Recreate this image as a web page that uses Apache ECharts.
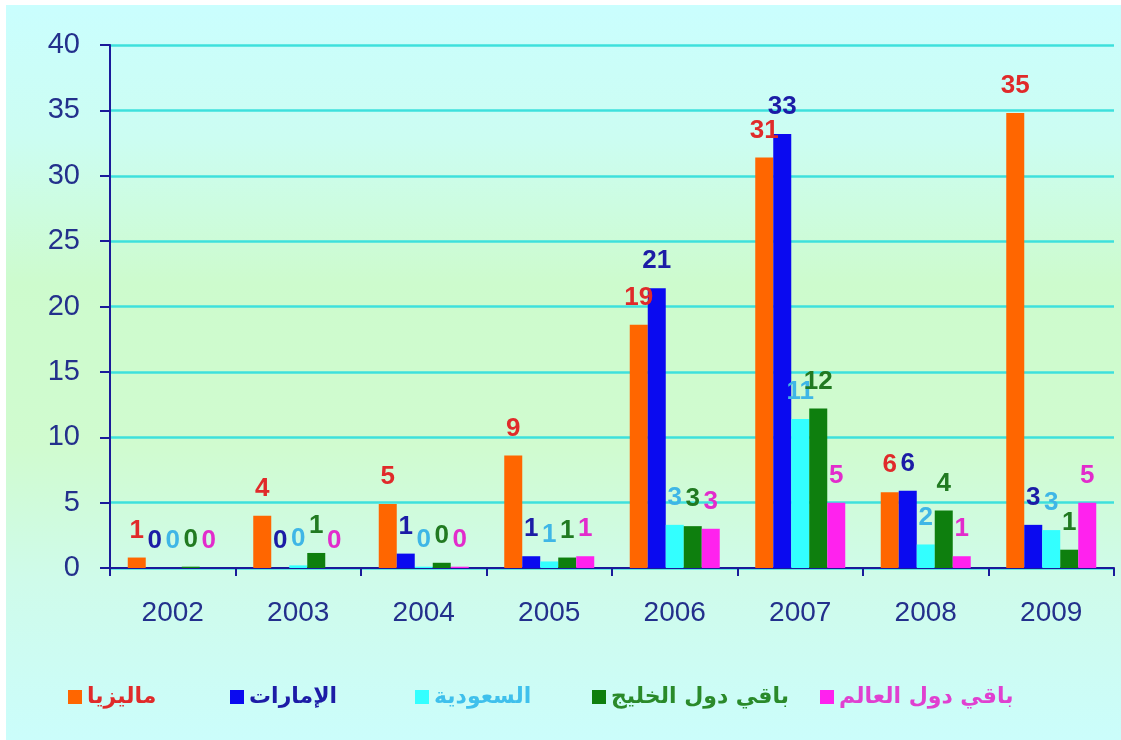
<!DOCTYPE html>
<html>
<head>
<meta charset="utf-8">
<script src="https://cdn.jsdelivr.net/npm/echarts@6/dist/echarts.min.js"></script>
<style>
  html, body { margin: 0; padding: 0; background: #ffffff; }
  #chart { position: absolute; left: 6px; top: 5px; width: 1115px; height: 735px; }
</style>
</head>
<body>
<div id="chart"></div>
<script>
// years on the x axis
const years = ['2002', '2003', '2004', '2005', '2006', '2007', '2008', '2009']

// series names (legend, Arabic)
const names = ['ماليزيا', 'الإمارات', 'السعودية', 'باقي دول الخليج', 'باقي دول العالم']

// bar heights
const malaysia = [0.8, 4.0, 4.9, 8.6, 18.6, 31.4, 5.8, 34.8]
const uae      = [0, 0, 1.1, 0.9, 21.4, 33.2, 5.9, 3.3]
const saudi    = [0, 0.2, 0.1, 0.5, 3.3, 11.4, 1.8, 2.9]
const gulf     = [0.1, 1.15, 0.4, 0.8, 3.2, 12.2, 4.4, 1.4]
const world    = [0, 0, 0.1, 0.9, 3.0, 5.0, 0.9, 5.0]

const barColors   = ['#ff6600', '#0a0af0', '#33ffff', '#0e7f0e', '#ff22ee']
const labelColors = ['#e02a2a', '#1c1ca6', '#3fb6e6', '#217a21', '#e22ccc']
const legendColors = ['#e02a2a', '#1c1ca6', '#3fc0ec', '#2a8a2a', '#e040d0']
// left edge of each legend item
const legendLeft = [57, 219, 404, 581, 809]

const chart = echarts.init(document.getElementById('chart'))

const makeSeries = (name, data, i) => ({
  name: name,
  type: 'bar',
  data: data,
  barWidth: 18,
  barGap: 0,
  itemStyle: { color: barColors[i] },
  label: {
    show: true,
    position: 'top',
    distance: 14,
    color: labelColors[i],
    fontFamily: 'Arial, Liberation Sans',
    fontWeight: 'bold',
    fontSize: 26,
    formatter: (p) => Math.round(p.value)
  }
})

const makeLegend = (name, i) => ({
  left: legendLeft[i],
  top: 676,
  itemWidth: 14,
  itemHeight: 14,
  itemGap: 0,
  icon: 'rect',
  textStyle: {
    color: legendColors[i],
    fontFamily: 'DejaVu Sans',
    fontWeight: 'bold',
    fontSize: 22
  },
  data: [name]
})

chart.setOption({
  backgroundColor: {
    type: 'linear', x: 0, y: 0, x2: 0, y2: 1,
    colorStops: [
      { offset: 0, color: '#cafefe' },
      { offset: 0.18, color: '#ccfdf2' },
      { offset: 0.38, color: '#cdfbcd' },
      { offset: 0.6, color: '#d0fbcf' },
      { offset: 0.78, color: '#cffbea' },
      { offset: 1, color: '#cbfdfb' }
    ]
  },
  animation: false,
  grid: { left: 104, right: 7, top: 40, bottom: 172 },
  legend: names.map(makeLegend),
  xAxis: {
    type: 'category',
    data: years,
    axisLine: { lineStyle: { color: '#1a1a9a', width: 2 } },
    axisTick: { show: true, length: 8, lineStyle: { color: '#1a1a9a', width: 2 } },
    axisLabel: {
      margin: 31,
      color: '#23308c',
      fontFamily: 'Arial, Liberation Sans',
      fontSize: 28
    }
  },
  yAxis: {
    type: 'value',
    min: 0,
    max: 40,
    interval: 5,
    axisLine: { show: true, lineStyle: { color: '#1a1a9a', width: 2 } },
    axisTick: { show: true, length: 10, lineStyle: { color: '#1a1a9a', width: 2 } },
    axisLabel: {
      margin: 30,
      color: '#23308c',
      fontFamily: 'Arial, Liberation Sans',
      fontSize: 29
    },
    splitLine: { lineStyle: { color: '#3ee0dc', width: 2.5 } }
  },
  series: [
    makeSeries(names[0], malaysia, 0),
    makeSeries(names[1], uae, 1),
    makeSeries(names[2], saudi, 2),
    makeSeries(names[3], gulf, 3),
    makeSeries(names[4], world, 4)
  ]
})
</script>
</body>
</html>
